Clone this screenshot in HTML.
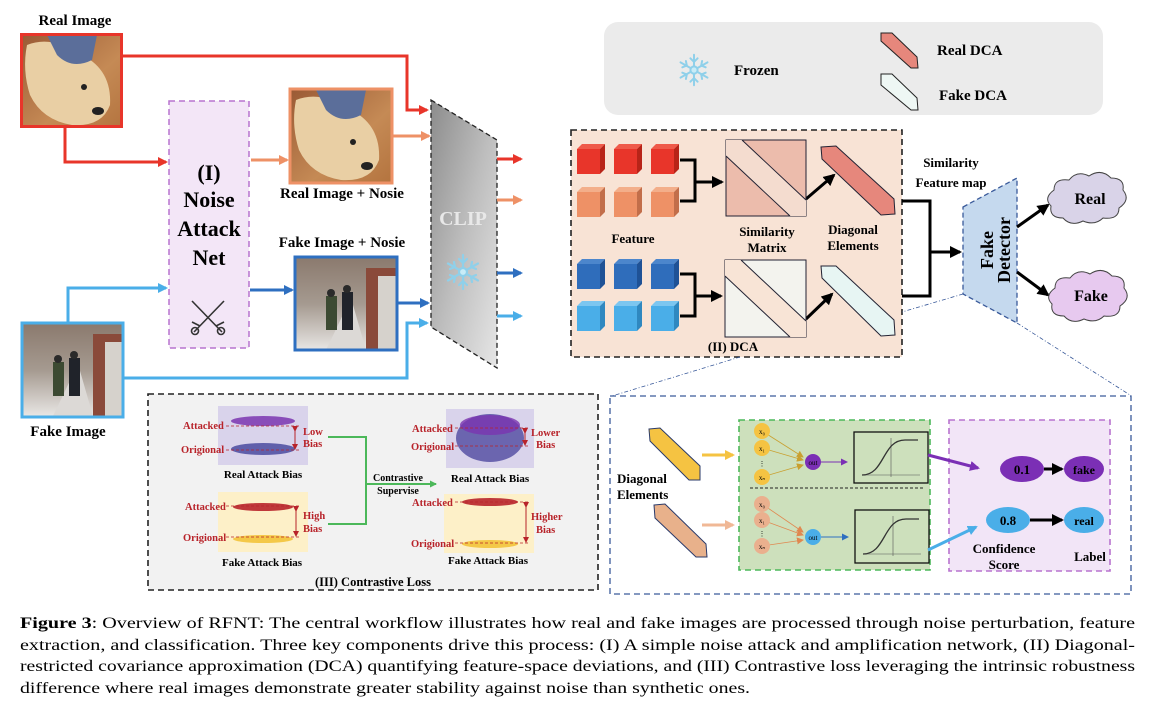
<!DOCTYPE html>
<html><head><meta charset="utf-8"><style>
html,body{margin:0;padding:0;background:#fff;}
svg{display:block;font-family:"Liberation Serif",serif;}
.b{font-weight:bold;}
</style></head><body>
<svg width="1154" height="708" viewBox="0 0 1154 708" xmlns="http://www.w3.org/2000/svg">
<defs>
<marker id="ar" markerWidth="10" markerHeight="10" refX="8" refY="5" orient="auto" markerUnits="userSpaceOnUse"><path d="M0,0 L10,5 L0,10 z" fill="context-stroke"/></marker>
<marker id="ak" markerWidth="12" markerHeight="12" refX="10" refY="6" orient="auto" markerUnits="userSpaceOnUse"><path d="M0,0 L12,6 L0,12 z" fill="#000"/></marker>
<marker id="as" markerWidth="7" markerHeight="7" refX="6" refY="3.5" orient="auto" markerUnits="userSpaceOnUse"><path d="M0,0 L7,3.5 L0,7 z" fill="context-stroke"/></marker>
<marker id="ared" markerWidth="6" markerHeight="6" refX="3" refY="3" orient="auto" markerUnits="userSpaceOnUse"><path d="M0,0 L6,3 L0,6 z" fill="#b8232a"/></marker>
<linearGradient id="clip" x1="0" y1="0" x2="1" y2="1"><stop offset="0" stop-color="#8c8c8c"/><stop offset="0.5" stop-color="#bdbdbd"/><stop offset="1" stop-color="#e6e6e6"/></linearGradient>
<linearGradient id="dog" x1="0" y1="0" x2="1" y2="1"><stop offset="0" stop-color="#9a5a35"/><stop offset="0.6" stop-color="#c58a55"/><stop offset="1" stop-color="#b4743f"/></linearGradient>
<linearGradient id="street" x1="0" y1="0" x2="0" y2="1"><stop offset="0" stop-color="#8b7a6e"/><stop offset="0.5" stop-color="#a59a90"/><stop offset="1" stop-color="#e8e6e4"/></linearGradient>
<g id="dogimg">
<rect x="0" y="0" width="100" height="92" fill="url(#dog)"/>
<path d="M5,10 Q30,0 60,20 Q90,35 88,70 Q80,92 50,90 Q20,85 8,60 Q0,35 5,10z" fill="#e9cfa4"/>
<path d="M25,0 L75,0 L70,25 Q50,35 35,20z" fill="#5b6e9a"/>
<circle cx="62" cy="52" r="3" fill="#222"/><ellipse cx="76" cy="76" rx="6" ry="4" fill="#222"/>
</g>
<g id="streetimg">
<rect x="0" y="0" width="100" height="92" fill="url(#street)"/>
<rect x="70" y="10" width="30" height="82" fill="#8a4a3a"/><rect x="82" y="18" width="18" height="74" fill="#d6d2cc"/>
<path d="M30,92 L55,40 L70,92z" fill="#dcd9d6"/>
<rect x="30" y="38" width="11" height="34" fill="#3c4a32"/><rect x="46" y="34" width="11" height="38" fill="#20232a"/>
<circle cx="35" cy="35" r="4" fill="#2a2a2a"/><circle cx="51" cy="31" r="4" fill="#2a2a2a"/>
</g>
<g id="cr"><rect x="0" y="5" width="23" height="25" fill="#e8352a"/><polygon points="0,5 5,0 28,0 23,5" fill="#ef5a4a"/><polygon points="23,5 28,0 28,25 23,30" fill="#b82418"/></g>
<g id="co"><rect x="0" y="5" width="23" height="25" fill="#ee9166"/><polygon points="0,5 5,0 28,0 23,5" fill="#f3ae8a"/><polygon points="23,5 28,0 28,25 23,30" fill="#c26e4a"/></g>
<g id="cb"><rect x="0" y="5" width="23" height="25" fill="#2f6dbb"/><polygon points="0,5 5,0 28,0 23,5" fill="#4c86cc"/><polygon points="23,5 28,0 28,25 23,30" fill="#1f5296"/></g>
<g id="cl"><rect x="0" y="5" width="23" height="25" fill="#4aaee8"/><polygon points="0,5 5,0 28,0 23,5" fill="#7cc6f0"/><polygon points="23,5 28,0 28,25 23,30" fill="#2f88c0"/></g>
<g id="snow" stroke="#8fd0ea" stroke-width="2.2" fill="none" stroke-linecap="round">
<path d="M0,-17 L0,17 M-15,-8.5 L15,8.5 M-15,8.5 L15,-8.5"/>
<path d="M-4,-13 L0,-9 L4,-13 M-4,13 L0,9 L4,13 M-13,-3 L-8,-5 L-9,-10 M13,3 L8,5 L9,10 M-13,3 L-8,5 L-9,10 M13,-3 L8,-5 L9,-10"/>
<circle r="4" fill="#c9ecf7"/>
</g>
</defs>

<!-- Real image -->
<text x="75" y="25" class="b" font-size="15" text-anchor="middle">Real Image</text>
<use href="#dogimg" transform="translate(22,35)"/>
<rect x="21.5" y="34.5" width="100" height="92" fill="none" stroke="#e8352a" stroke-width="3"/>
<polyline points="123,56 407,56 407,110 427,110" fill="none" stroke="#e8352a" stroke-width="3" marker-end="url(#ar)"/>
<polyline points="65,128 65,162 166,162" fill="none" stroke="#e8352a" stroke-width="3" marker-end="url(#ar)"/>

<!-- Noise attack net -->
<rect x="169" y="101" width="80" height="247" fill="#f3e6f7" stroke="#b873cf" stroke-width="1.5" stroke-dasharray="6,4"/>
<text x="209" y="180" class="b" font-size="22" text-anchor="middle">(I)</text>
<text x="209" y="207" class="b" font-size="22" text-anchor="middle">Noise</text>
<text x="209" y="236" class="b" font-size="22" text-anchor="middle">Attack</text>
<text x="209" y="265" class="b" font-size="22" text-anchor="middle">Net</text>
<g stroke="#333" stroke-width="1.6" fill="none"><path d="M192,301 L222,332 M224,301 L194,332"/><circle cx="195" cy="331" r="3.5"/><circle cx="221" cy="331" r="3.5"/><path d="M192,322 L200,326 M224,322 L216,326"/></g>

<!-- real + noise -->
<polyline points="251,160 287,160" fill="none" stroke="#ee9166" stroke-width="3" marker-end="url(#ar)"/>
<use href="#dogimg" transform="translate(291,90)"/>
<rect x="290" y="89" width="102" height="94" fill="none" stroke="#ee9166" stroke-width="3"/>
<text x="342" y="198" class="b" font-size="15" text-anchor="middle">Real Image + Nosie</text>
<polyline points="393,136 429,136" fill="none" stroke="#ee9166" stroke-width="3" marker-end="url(#ar)"/>

<!-- fake + noise -->
<text x="342" y="247" class="b" font-size="15" text-anchor="middle">Fake Image + Nosie</text>
<polyline points="250,290 292,290" fill="none" stroke="#2e6fc0" stroke-width="3" marker-end="url(#ar)"/>
<use href="#streetimg" transform="translate(296,258)"/>
<rect x="295" y="257" width="102" height="93" fill="none" stroke="#2e6fc0" stroke-width="3"/>
<polyline points="398,303 428,303" fill="none" stroke="#2e6fc0" stroke-width="3" marker-end="url(#ar)"/>

<!-- fake image -->
<polyline points="68,322 68,288 166,288" fill="none" stroke="#4aaee8" stroke-width="3" marker-end="url(#ar)"/>
<use href="#streetimg" transform="translate(23,324)"/>
<rect x="22" y="323" width="101" height="94" fill="none" stroke="#4aaee8" stroke-width="3"/>
<polyline points="123,378 407,378 407,323 427,323" fill="none" stroke="#4aaee8" stroke-width="3" marker-end="url(#ar)"/>
<text x="68" y="436" class="b" font-size="15" text-anchor="middle">Fake Image</text>

<!-- CLIP -->
<polygon points="431,100 497,140 497,368 431,327" fill="url(#clip)" stroke="#222" stroke-width="1.3" stroke-dasharray="5,3"/>
<text x="463" y="225" class="b" font-size="20" fill="#e8e8e8" text-anchor="middle">CLIP</text>
<use href="#snow" transform="translate(463,272)"/>
<line x1="497" y1="159" x2="521" y2="159" stroke="#e8352a" stroke-width="3" marker-end="url(#ar)"/>
<line x1="497" y1="200" x2="521" y2="200" stroke="#ee9166" stroke-width="3" marker-end="url(#ar)"/>
<line x1="497" y1="273" x2="521" y2="273" stroke="#2e6fc0" stroke-width="3" marker-end="url(#ar)"/>
<line x1="497" y1="316" x2="521" y2="316" stroke="#4aaee8" stroke-width="3" marker-end="url(#ar)"/>

<!-- legend -->
<rect x="604" y="22" width="499" height="93" rx="14" fill="#ebebeb"/>
<use href="#snow" transform="translate(694,70) scale(0.9)"/>
<text x="734" y="75" class="b" font-size="15">Frozen</text>
<polygon points="881,33 892,33 917,57 918,68 911,68 881,41" fill="#e6877c" stroke="#222" stroke-width="1"/>
<text x="937" y="55" class="b" font-size="15">Real DCA</text>
<polygon points="881,74 892,74 917,98 918,110 911,110 881,85" fill="#eef7f4" stroke="#222" stroke-width="1"/>
<text x="939" y="100" class="b" font-size="15">Fake DCA</text>

<!-- DCA box -->
<rect x="571" y="130" width="331" height="227" fill="#f8e3d5" stroke="#222" stroke-width="1.6" stroke-dasharray="6,4"/>
<use href="#cr" x="577" y="144"/><use href="#cr" x="614" y="144"/><use href="#cr" x="651" y="144"/>
<use href="#co" x="577" y="187"/><use href="#co" x="614" y="187"/><use href="#co" x="651" y="187"/>
<use href="#cb" x="577" y="259"/><use href="#cb" x="614" y="259"/><use href="#cb" x="651" y="259"/>
<use href="#cl" x="577" y="301"/><use href="#cl" x="614" y="301"/><use href="#cl" x="651" y="301"/>
<text x="633" y="243" class="b" font-size="13" text-anchor="middle">Feature</text>
<g fill="none" stroke="#000" stroke-width="3">
<polyline points="680,160 695,160 695,201 680,201"/><line x1="695" y1="182" x2="722" y2="182" marker-end="url(#ak)"/>
<polyline points="680,274 695,274 695,316 680,316"/><line x1="695" y1="296" x2="721" y2="296" marker-end="url(#ak)"/>
<line x1="806" y1="199" x2="834" y2="175" marker-end="url(#ak)"/>
<line x1="806" y1="319" x2="832" y2="294" marker-end="url(#ak)"/>
</g>
<rect x="726" y="140" width="80" height="76" fill="#ecbcac" stroke="#223" stroke-width="1"/>
<polygon points="742,140 806,200 806,216 790,216 726,156 726,140" fill="#f4dccf"/>
<g stroke="#223" stroke-width="1"><line x1="742" y1="140" x2="806" y2="200"/><line x1="726" y1="156" x2="790" y2="216"/></g>
<rect x="725" y="260" width="81" height="77" fill="#f3f3ee" stroke="#223" stroke-width="1"/>
<polygon points="741,260 806,321 806,337 790,337 725,276 725,260" fill="#f8e4d6"/>
<g stroke="#223" stroke-width="1"><line x1="741" y1="260" x2="806" y2="321"/><line x1="725" y1="276" x2="790" y2="337"/></g>
<polygon points="821,147 836,146 894,199 895,214 881,215 822,159" fill="#e6877c" stroke="#223" stroke-width="1"/>
<polygon points="821,266 836,266 894,320 895,335 881,336 822,278" fill="#e7f5f3" stroke="#223" stroke-width="1"/>
<text x="767" y="236" class="b" font-size="13" text-anchor="middle">Similarity</text>
<text x="767" y="252" class="b" font-size="13" text-anchor="middle">Matrix</text>
<text x="853" y="234" class="b" font-size="13" text-anchor="middle">Diagonal</text>
<text x="853" y="250" class="b" font-size="13" text-anchor="middle">Elements</text>
<text x="733" y="351" class="b" font-size="13" text-anchor="middle">(II)  DCA</text>

<!-- detector -->
<text x="951" y="167" class="b" font-size="13" text-anchor="middle">Similarity</text>
<text x="951" y="187" class="b" font-size="13" text-anchor="middle">Feature map</text>
<polyline points="902,201 930,201 930,296 902,296" fill="none" stroke="#000" stroke-width="3"/>
<line x1="930" y1="252" x2="960" y2="252" stroke="#000" stroke-width="3" marker-end="url(#ak)"/>
<polygon points="963,207 1017,178 1017,323 963,294" fill="#c5d9ee" stroke="#3a5a9a" stroke-width="1.3" stroke-dasharray="5,3"/>
<text transform="translate(987,250) rotate(-90)" class="b" font-size="18" text-anchor="middle" y="6">Fake</text>
<text transform="translate(1004,250) rotate(-90)" class="b" font-size="18" text-anchor="middle" y="6">Detector</text>
<line x1="1017" y1="227" x2="1048" y2="205" stroke="#000" stroke-width="3" marker-end="url(#ak)"/>
<line x1="1017" y1="272" x2="1048" y2="295" stroke="#000" stroke-width="3" marker-end="url(#ak)"/>
<path d="M1054,190 q0,-12 15,-10 q8,-10 20,-4 q12,-8 22,2 q14,0 12,12 q8,10 -4,18 q0,12 -16,10 q-8,8 -20,3 q-12,6 -20,-3 q-14,0 -12,-12 q-8,-8 3,-16z" fill="#d9d3e8" stroke="#444" stroke-width="1"/>
<text x="1090" y="204" class="b" font-size="16" text-anchor="middle">Real</text>
<path d="M1055,288 q0,-12 15,-10 q8,-10 20,-4 q12,-8 22,2 q14,0 12,12 q8,10 -4,18 q0,12 -16,10 q-8,8 -20,3 q-12,6 -20,-3 q-14,0 -12,-12 q-8,-8 3,-16z" fill="#e7c9ef" stroke="#444" stroke-width="1"/>
<text x="1091" y="301" class="b" font-size="16" text-anchor="middle">Fake</text>

<!-- zoom lines -->
<g stroke="#3a5a9a" stroke-width="0.8" stroke-dasharray="4,2,1,2" fill="none">
<line x1="963" y1="294" x2="902" y2="312"/>
<line x1="1017" y1="323" x2="1130" y2="395"/>
<line x1="740" y1="357" x2="612" y2="396"/>
</g>

<!-- contrastive loss -->
<rect x="148" y="394" width="450" height="196" fill="#f2f2f2" stroke="#222" stroke-width="1.6" stroke-dasharray="6,4"/>
<rect x="218" y="406" width="90" height="59" fill="#d9d3eb"/>
<rect x="218" y="492" width="90" height="60" fill="#fdf0c8"/>
<rect x="446" y="409" width="88" height="59" fill="#d9d3eb"/>
<rect x="444" y="494" width="90" height="59" fill="#fdf0c8"/>
<g fill="#7a35b0"><ellipse cx="263" cy="421" rx="32" ry="5" opacity="0.85"/></g>
<g fill="#4a4aa0"><ellipse cx="263" cy="449" rx="32" ry="6" opacity="0.85"/></g>
<g fill="#b8232a"><ellipse cx="263" cy="507" rx="30" ry="4" opacity="0.9"/></g>
<g fill="#f3c33a"><ellipse cx="263" cy="539" rx="30" ry="4" opacity="0.9"/></g>
<ellipse cx="490" cy="438" rx="34" ry="24" fill="#4f4aa0" opacity="0.8"/>
<ellipse cx="490" cy="425" rx="30" ry="10" fill="#7a35b0" opacity="0.8"/>
<ellipse cx="490" cy="502" rx="28" ry="4" fill="#b8232a" opacity="0.9"/>
<ellipse cx="490" cy="544" rx="28" ry="4" fill="#f3c33a" opacity="0.9"/>
<g stroke="#b8232a" stroke-width="0.8" stroke-dasharray="3,2">
<line x1="226" y1="426" x2="300" y2="426"/><line x1="226" y1="450" x2="300" y2="450"/>
<line x1="226" y1="506" x2="300" y2="506"/><line x1="226" y1="537" x2="300" y2="537"/>
<line x1="455" y1="428" x2="530" y2="428"/><line x1="455" y1="446" x2="530" y2="446"/>
<line x1="455" y1="502" x2="530" y2="502"/><line x1="455" y1="543" x2="530" y2="543"/>
</g>
<g stroke="#b8232a" stroke-width="1">
<line x1="295" y1="429" x2="295" y2="447" marker-start="url(#ared)" marker-end="url(#ared)"/>
<line x1="296" y1="509" x2="296" y2="534" marker-start="url(#ared)" marker-end="url(#ared)"/>
<line x1="525" y1="431" x2="525" y2="443" marker-start="url(#ared)" marker-end="url(#ared)"/>
<line x1="526" y1="505" x2="526" y2="540" marker-start="url(#ared)" marker-end="url(#ared)"/>
</g>
<g fill="#b8232a" class="b" font-size="10.5">
<text x="183" y="429">Attacked</text><text x="181" y="453">Origional</text>
<text x="303" y="435">Low</text><text x="303" y="447">Bias</text>
<text x="185" y="510">Attacked</text><text x="183" y="541">Origional</text>
<text x="303" y="519">High</text><text x="303" y="532">Bias</text>
<text x="412" y="432">Attacked</text><text x="411" y="450">Origional</text>
<text x="531" y="436">Lower</text><text x="536" y="448">Bias</text>
<text x="412" y="506">Attacked</text><text x="411" y="547">Origional</text>
<text x="531" y="520">Higher</text><text x="536" y="533">Bias</text>
</g>
<g class="b" font-size="11" text-anchor="middle">
<text x="263" y="478">Real Attack Bias</text><text x="262" y="566">Fake Attack Bias</text>
<text x="490" y="482">Real Attack Bias</text><text x="488" y="564">Fake Attack Bias</text>
<text x="398" y="481" font-size="10">Contrastive</text><text x="398" y="494" font-size="10">Supervise</text>
<text x="373" y="586" font-size="12.5">(III) Contrastive Loss</text>
</g>
<polyline points="328,437 366,437 366,524 328,524" fill="none" stroke="#4cb85a" stroke-width="2"/>
<line x1="366" y1="484" x2="436" y2="484" stroke="#4cb85a" stroke-width="2" marker-end="url(#as)"/>

<!-- bottom right -->
<rect x="610" y="396" width="521" height="198" fill="#fff" stroke="#3a5a9a" stroke-width="1.3" stroke-dasharray="6,4"/>
<polygon points="649,429 660,428 700,466 700,480 689,480 650,441" fill="#f5c342" stroke="#2a3a6a" stroke-width="1"/>
<polygon points="654,505 665,504 706,544 707,557 696,557 655,518" fill="#e8b18b" stroke="#2a3a6a" stroke-width="1"/>
<text x="617" y="483" class="b" font-size="13">Diagonal</text>
<text x="617" y="499" class="b" font-size="13">Elements</text>
<line x1="702" y1="455" x2="733" y2="455" stroke="#f5c342" stroke-width="3" marker-end="url(#ar)"/>
<line x1="702" y1="525" x2="733" y2="525" stroke="#f0b896" stroke-width="3" marker-end="url(#ar)"/>
<rect x="739" y="420" width="191" height="150" fill="#cde0bc" stroke="#4cb85a" stroke-width="1.6" stroke-dasharray="6,4"/>
<line x1="750" y1="488" x2="925" y2="488" stroke="#222" stroke-width="1" stroke-dasharray="3,2"/>
<g stroke="#c9a030" stroke-width="0.8">
<line x1="762" y1="431" x2="803" y2="457" marker-end="url(#as)"/><line x1="762" y1="448" x2="803" y2="460" marker-end="url(#as)"/><line x1="762" y1="477" x2="803" y2="465" marker-end="url(#as)"/></g>
<g stroke="#e08850" stroke-width="0.8">
<line x1="762" y1="504" x2="803" y2="532" marker-end="url(#as)"/><line x1="762" y1="520" x2="803" y2="535" marker-end="url(#as)"/><line x1="762" y1="546" x2="803" y2="540" marker-end="url(#as)"/></g>
<g fill="#f5c342"><circle cx="762" cy="431" r="8"/><circle cx="762" cy="448" r="8"/><circle cx="762" cy="477" r="8"/></g>
<g fill="#eab08e"><circle cx="762" cy="504" r="8"/><circle cx="762" cy="520" r="8"/><circle cx="762" cy="546" r="8"/></g>
<circle cx="813" cy="462" r="8" fill="#7b2fb5"/><circle cx="813" cy="537" r="8" fill="#4aaee8"/>
<g font-size="7" text-anchor="middle">
<text x="762" y="434">x₀</text><text x="762" y="451">x₁</text><text x="762" y="480">xₙ</text><text x="762" y="466">⋮</text>
<text x="762" y="507">x₀</text><text x="762" y="523">x₁</text><text x="762" y="549">xₙ</text><text x="762" y="536">⋮</text>
<text x="813" y="465">out</text><text x="813" y="540">out</text></g>
<line x1="821" y1="462" x2="847" y2="462" stroke="#7b2fb5" stroke-width="1" marker-end="url(#as)"/>
<line x1="821" y1="537" x2="848" y2="537" stroke="#2e6fc0" stroke-width="1" marker-end="url(#as)"/>
<rect x="854" y="432" width="74" height="51" fill="#cde0bc" stroke="#111" stroke-width="1.3"/>
<rect x="855" y="510" width="74" height="53" fill="#cde0bc" stroke="#111" stroke-width="1.3"/>
<g stroke="#555" stroke-width="0.6"><line x1="891" y1="438" x2="891" y2="477"/><line x1="862" y1="475" x2="920" y2="475"/><line x1="893" y1="516" x2="893" y2="556"/><line x1="863" y1="554" x2="921" y2="554"/></g>
<path d="M862,475 C885,475 882,440 905,440 L918,440" fill="none" stroke="#333" stroke-width="1.3"/>
<path d="M863,554 C886,554 883,519 906,519 L919,519" fill="none" stroke="#333" stroke-width="1.3"/>
<rect x="949" y="420" width="161" height="151" fill="#f2e5f7" stroke="#b873cf" stroke-width="1.6" stroke-dasharray="6,4"/>
<line x1="928" y1="455" x2="978" y2="468" stroke="#7b2fb5" stroke-width="3" marker-end="url(#ar)"/>
<line x1="928" y1="550" x2="976" y2="527" stroke="#4aaee8" stroke-width="3" marker-end="url(#ar)"/>
<ellipse cx="1022" cy="469" rx="22" ry="13" fill="#7b2fb5"/>
<ellipse cx="1084" cy="469" rx="20" ry="13" fill="#7b2fb5"/>
<ellipse cx="1008" cy="520" rx="22" ry="13" fill="#4aaee8"/>
<ellipse cx="1084" cy="520" rx="20" ry="13" fill="#4aaee8"/>
<line x1="1044" y1="469" x2="1062" y2="469" stroke="#000" stroke-width="3" marker-end="url(#ak)"/>
<line x1="1030" y1="520" x2="1062" y2="520" stroke="#000" stroke-width="3" marker-end="url(#ak)"/>
<g class="b" font-size="13" text-anchor="middle">
<text x="1022" y="474">0.1</text><text x="1084" y="474" font-size="12">fake</text>
<text x="1008" y="525">0.8</text><text x="1084" y="525" font-size="12">real</text>
<text x="1004" y="553">Confidence</text><text x="1004" y="569">Score</text><text x="1090" y="561">Label</text>
</g>

<!-- caption -->
<g font-size="15.5">
<text x="20" y="628" textLength="1115" lengthAdjust="spacingAndGlyphs"><tspan font-weight="bold">Figure 3</tspan>: Overview of RFNT: The central workflow illustrates how real and fake images are processed through noise perturbation, feature</text>
<text x="20" y="650" textLength="1115" lengthAdjust="spacingAndGlyphs">extraction, and classification. Three key components drive this process: (I) A simple noise attack and amplification network, (II) Diagonal-</text>
<text x="20" y="671" textLength="1115" lengthAdjust="spacingAndGlyphs">restricted covariance approximation (DCA) quantifying feature-space deviations, and (III) Contrastive loss leveraging the intrinsic robustness</text>
<text x="20" y="693" textLength="730" lengthAdjust="spacingAndGlyphs">difference where real images demonstrate greater stability against noise than synthetic ones.</text>
</g>
</svg>
</body></html>
